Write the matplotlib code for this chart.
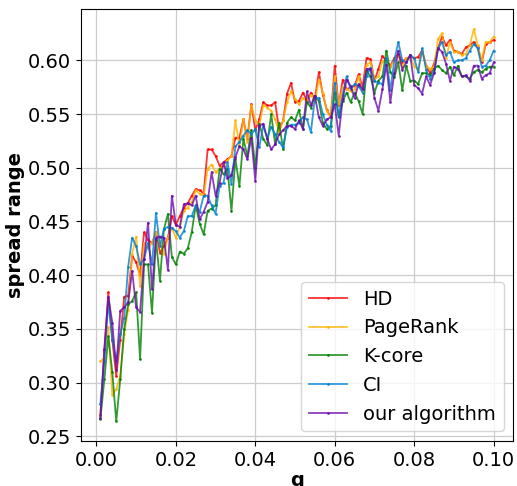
import numpy as np
import matplotlib
matplotlib.use("Agg")
import matplotlib.pyplot as plt

# q values: 0.001 .. 0.100
q = np.round(np.arange(1, 101) * 0.001, 3)

hd = [0.270, 0.330, 0.384, 0.340, 0.306, 0.340, 0.380, 0.381, 0.418, 0.412,
      0.400, 0.440, 0.433, 0.430, 0.440, 0.421, 0.427, 0.435, 0.455, 0.447,
      0.455, 0.463, 0.467, 0.474, 0.480, 0.479, 0.476, 0.517, 0.517, 0.511,
      0.502, 0.505, 0.508, 0.511, 0.528, 0.528, 0.545, 0.527, 0.559, 0.535,
      0.545, 0.561, 0.558, 0.558, 0.561, 0.535, 0.544, 0.569, 0.579, 0.561,
      0.562, 0.570, 0.562, 0.570, 0.564, 0.589, 0.568, 0.554, 0.547, 0.595,
      0.558, 0.582, 0.573, 0.575, 0.576, 0.587, 0.575, 0.602, 0.601, 0.581,
      0.592, 0.604, 0.599, 0.595, 0.602, 0.606, 0.598, 0.602, 0.603, 0.602,
      0.603, 0.609, 0.595, 0.588, 0.597, 0.611, 0.622, 0.614, 0.619, 0.609,
      0.608, 0.606, 0.612, 0.614, 0.617, 0.612, 0.598, 0.615, 0.617, 0.619]

pagerank = [0.320, 0.323, 0.352, 0.289, 0.294, 0.306, 0.345, 0.368, 0.420, 0.436,
            0.390, 0.430, 0.425, 0.430, 0.440, 0.430, 0.420, 0.435, 0.444, 0.435,
            0.445, 0.460, 0.463, 0.468, 0.479, 0.476, 0.474, 0.499, 0.503, 0.496,
            0.499, 0.502, 0.507, 0.511, 0.544, 0.519, 0.545, 0.524, 0.558, 0.544,
            0.539, 0.558, 0.556, 0.553, 0.545, 0.533, 0.544, 0.561, 0.571, 0.564,
            0.559, 0.565, 0.561, 0.568, 0.561, 0.582, 0.570, 0.553, 0.547, 0.585,
            0.559, 0.575, 0.573, 0.571, 0.573, 0.585, 0.570, 0.596, 0.598, 0.582,
            0.585, 0.599, 0.598, 0.594, 0.600, 0.604, 0.594, 0.602, 0.602, 0.595,
            0.591, 0.609, 0.595, 0.592, 0.594, 0.620, 0.625, 0.602, 0.617, 0.608,
            0.608, 0.605, 0.606, 0.614, 0.629, 0.614, 0.600, 0.617, 0.617, 0.622]

kcore = [0.266, 0.303, 0.343, 0.310, 0.264, 0.303, 0.350, 0.373, 0.376, 0.384,
         0.322, 0.410, 0.410, 0.365, 0.433, 0.395, 0.443, 0.457, 0.417, 0.410,
         0.422, 0.420, 0.425, 0.440, 0.465, 0.448, 0.438, 0.460, 0.462, 0.465,
         0.499, 0.494, 0.499, 0.460, 0.508, 0.483, 0.527, 0.511, 0.535, 0.500,
         0.541, 0.527, 0.521, 0.550, 0.522, 0.542, 0.517, 0.542, 0.547, 0.544,
         0.554, 0.536, 0.561, 0.556, 0.567, 0.562, 0.542, 0.536, 0.539, 0.570,
         0.547, 0.562, 0.570, 0.561, 0.570, 0.562, 0.550, 0.590, 0.585, 0.570,
         0.581, 0.585, 0.609, 0.589, 0.584, 0.598, 0.572, 0.595, 0.581, 0.581,
         0.578, 0.588, 0.588, 0.586, 0.592, 0.595, 0.591, 0.588, 0.594, 0.586,
         0.595, 0.585, 0.585, 0.583, 0.589, 0.591, 0.589, 0.592, 0.594, 0.594]

ci = [0.280, 0.320, 0.375, 0.340, 0.320, 0.345, 0.360, 0.408, 0.435, 0.427,
      0.410, 0.415, 0.430, 0.410, 0.458, 0.427, 0.443, 0.445, 0.444, 0.441,
      0.435, 0.441, 0.455, 0.455, 0.465, 0.459, 0.474, 0.474, 0.465, 0.457,
      0.483, 0.486, 0.505, 0.485, 0.520, 0.524, 0.530, 0.535, 0.531, 0.536,
      0.519, 0.539, 0.528, 0.538, 0.531, 0.524, 0.519, 0.538, 0.540, 0.540,
      0.542, 0.547, 0.545, 0.533, 0.565, 0.565, 0.550, 0.540, 0.534, 0.579,
      0.548, 0.568, 0.585, 0.573, 0.578, 0.576, 0.570, 0.585, 0.593, 0.581,
      0.579, 0.578, 0.602, 0.572, 0.600, 0.617, 0.600, 0.598, 0.605, 0.602,
      0.589, 0.611, 0.591, 0.583, 0.589, 0.611, 0.617, 0.605, 0.608, 0.598,
      0.600, 0.600, 0.602, 0.609, 0.615, 0.611, 0.594, 0.595, 0.600, 0.609]

ours = [0.267, 0.331, 0.380, 0.356, 0.312, 0.367, 0.370, 0.375, 0.404, 0.370,
        0.366, 0.415, 0.449, 0.387, 0.435, 0.436, 0.435, 0.405, 0.474, 0.447,
        0.445, 0.466, 0.467, 0.465, 0.474, 0.452, 0.459, 0.468, 0.496, 0.474,
        0.486, 0.505, 0.490, 0.493, 0.510, 0.520, 0.517, 0.508, 0.528, 0.488,
        0.539, 0.541, 0.527, 0.517, 0.522, 0.531, 0.535, 0.539, 0.539, 0.536,
        0.544, 0.536, 0.571, 0.558, 0.567, 0.547, 0.539, 0.545, 0.547, 0.559,
        0.530, 0.564, 0.582, 0.576, 0.565, 0.578, 0.573, 0.592, 0.592, 0.565,
        0.553, 0.573, 0.596, 0.561, 0.588, 0.609, 0.591, 0.598, 0.605, 0.577,
        0.574, 0.569, 0.585, 0.577, 0.588, 0.611, 0.608, 0.597, 0.581, 0.594,
        0.592, 0.585, 0.586, 0.581, 0.595, 0.595, 0.583, 0.586, 0.588, 0.598]

series = [
    ("HD", hd, "#ff0000"),
    ("PageRank", pagerank, "#ffb300"),
    ("K-core", kcore, "#008000"),
    ("CI", ci, "#0080d0"),
    ("our algorithm", ours, "#6a0dad"),
]

fig = plt.figure(figsize=(5.17, 4.86), dpi=100)
ax = fig.add_axes([80.7 / 517, 45 / 486, 432.6 / 517, 431.5 / 486])

for name, vals, col in series:
    ax.plot(q, vals, color=col, marker=".", markersize=2, linewidth=1.3,
            alpha=0.8, label=name)

ax.grid(True, color="#cccccc", linewidth=0.9)
ax.set_axisbelow(True)
ax.set_xticks([0.0, 0.02, 0.04, 0.06, 0.08, 0.10])
ax.set_yticks([0.25, 0.30, 0.35, 0.40, 0.45, 0.50, 0.55, 0.60])
ax.tick_params(labelsize=14)
ax.set_xlabel("q", fontsize=14, fontweight="bold", labelpad=1)
ax.set_ylabel("spread range", fontsize=14, fontweight="bold", labelpad=2)
ax.legend(loc="lower right", fontsize=14)

fig.savefig("out.png", dpi=100)
